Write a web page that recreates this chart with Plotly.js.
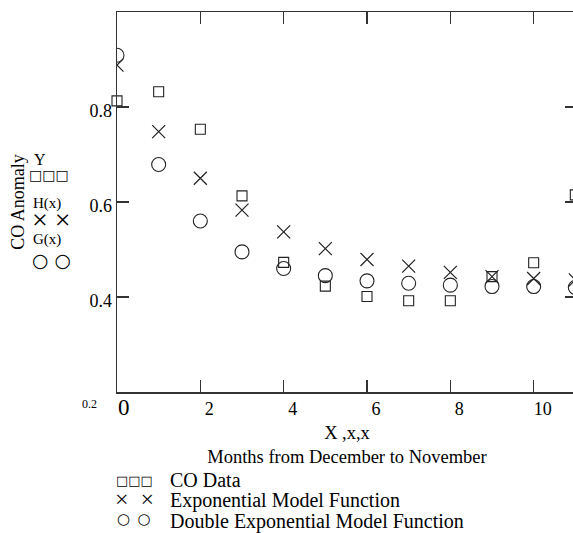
<!DOCTYPE html>
<html>
<head>
<meta charset="utf-8">
<script src="https://cdn.plot.ly/plotly-3.0.1.min.js"></script>
<style>
html, body { margin: 0; padding: 0; overflow: hidden; background: #fff; }
#chart { width: 600px; height: 533px; }
</style>
</head>
<body>
<div id="chart"></div>
<script>
// ---- data ----
var months = [0, 1, 2, 3, 4, 5, 6, 7, 8, 9, 10, 11];
var coData = [0.813, 0.832, 0.753, 0.613, 0.473, 0.423, 0.401, 0.392, 0.392, 0.443, 0.472, 0.615];
var expModel = [0.888, 0.748, 0.650, 0.583, 0.537, 0.502, 0.479, 0.465, 0.452, 0.443, 0.439, 0.436];
var dblExpModel = [0.909, 0.679, 0.560, 0.495, 0.460, 0.445, 0.434, 0.429, 0.425, 0.422, 0.422, 0.420];
var xTickVals = [2, 4, 6, 8, 10];
var xTickText = ['2', '4', '6', '8', '10'];
var yTickVals = [0.4, 0.6, 0.8];
var yTickText = ['0.4', '0.6', '0.8'];
var seriesNames = ['CO Data', 'Exponential Model Function', 'Double Exponential Model Function'];
var sideLabels = ['Y', 'H(x)', 'G(x)'];
var squareGlyphs = '\u25A1\u25A1\u25A1';
var crossGlyphsLeft = '\u00D7 \u00D7';
var crossGlyphsBottom = '\u00D7\u2002\u00D7';
var circleGlyphsLeft = '\u25CB \u25CB';
var circleGlyphsBottom = '\u25CB\u2002\u25CB';

var W = 600, H = 533;
var M = {l: 117, r: 23, t: 12, b: 141};
var PW = W - M.l - M.r, PH = H - M.t - M.b;
function px(p) { return (p - M.l) / PW; }
function py(p) { return (H - M.b - p) / PH; }

var serif = 'Liberation Serif, Times New Roman, serif';
var glyphFont = 'DejaVu Sans, sans-serif';
var ink = '#222';

var traces = [
  {x: months, y: coData, name: seriesNames[0], type: 'scatter', mode: 'markers', cliponaxis: false,
   marker: {symbol: 'square-open', size: 10, color: ink, line: {width: 1.1, color: ink}}},
  {x: months, y: expModel, name: seriesNames[1], type: 'scatter', mode: 'markers', cliponaxis: true,
   marker: {symbol: 'x-thin-open', size: 13, color: ink, line: {width: 1.2, color: ink}}},
  {x: months, y: dblExpModel, name: seriesNames[2], type: 'scatter', mode: 'markers', cliponaxis: true,
   marker: {symbol: 'circle-open', size: 14, color: ink, line: {width: 1.1, color: ink}}}
];

function ann(text, x, y, size, family, xa, ya) {
  return {text: text, xref: 'paper', yref: 'paper', x: px(x), y: py(y), showarrow: false,
          xanchor: xa || 'center', yanchor: ya || 'middle',
          font: {family: family || serif, size: size, color: '#000'}};
}

var annotations = [
  ann('0', 124, 408, 23),
  ann('0.2', 89, 404, 12),
  ann(sideLabels[0], 40, 159, 16),
  ann(squareGlyphs, 49, 175, 14, glyphFont),
  ann(sideLabels[1], 47, 203, 15),
  ann(crossGlyphsLeft, 51, 220, 28, serif),
  ann(sideLabels[2], 47, 239, 15),
  ann(circleGlyphsLeft, 51, 260, 19, glyphFont),
  ann(squareGlyphs, 134, 480, 13, glyphFont),
  ann(crossGlyphsBottom, 134, 499, 24, serif),
  ann(circleGlyphsBottom, 134, 519, 15, glyphFont),
  ann(seriesNames[0], 168, 480, 20, serif, 'left'),
  ann(seriesNames[1], 168, 500, 20, serif, 'left'),
  ann(seriesNames[2], 168, 521, 20, serif, 'left')
];

var axisCommon = {
  showline: true, linewidth: 1.5, linecolor: '#333', mirror: 'allticks',
  ticks: 'inside', ticklen: 12, tickwidth: 1.5, tickcolor: '#333',
  showgrid: false, zeroline: false, tickfont: {family: serif, size: 18, color: '#000'}
};

var layout = {
  width: W, height: H, margin: M,
  paper_bgcolor: '#fff', plot_bgcolor: '#fff', showlegend: false,
  xaxis: Object.assign({}, axisCommon, {
    range: [0, 11.04], tickmode: 'array', tickvals: xTickVals, ticktext: xTickText,
    ticklabelshift: 9,
    title: {text: 'X ,x,x<br>Months from December to November', font: {family: serif, size: 18.5, color: '#000'}, standoff: 8}
  }),
  yaxis: Object.assign({}, axisCommon, {
    range: [0.2, 1.0], tickmode: 'array', tickvals: yTickVals, ticktext: yTickText,
    ticklabelshift: 4,
    title: {text: 'CO Anomaly', font: {family: serif, size: 18, color: '#000'}, standoff: 60}
  }),
  annotations: annotations
};

Plotly.newPlot('chart', traces, layout, {displayModeBar: false, staticPlot: true});
</script>
</body>
</html>
